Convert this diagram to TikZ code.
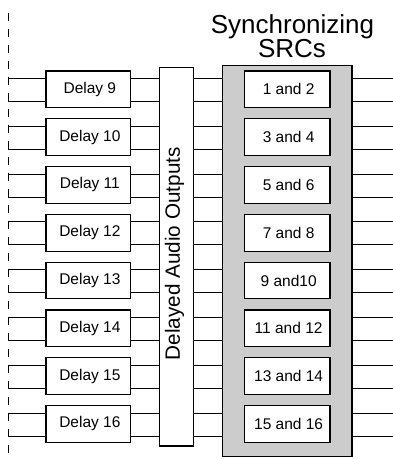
\documentclass[tikz,border=0pt]{standalone}
\usepackage{fontspec}
\setmainfont{Liberation Sans}
\begin{document}
\begin{tikzpicture}[x=1pt,y=-1pt,
  box/.style={draw, line width=1.1pt, fill=white, minimum height=36.7pt, inner sep=0pt,
    font=\fontsize{15.5}{17}\selectfont},
  wire/.style={line width=0.9pt},
  titletext/.style={font=\fontsize{26}{27}\selectfont, inner sep=0pt, anchor=base}]
\useasboundingbox (0,0) rectangle (393,459);
% dashed input line
\coordinate (dtop) at (8.3,12.7);
\coordinate (dbot) at (8.3,459);
\draw[line width=0.9pt, dash pattern=on 8pt off 8pt] (dtop) -- (dbot);
\coordinate (re) at (393,0);
% title
\node[titletext] (t1) at (292.5,33) {Synchronizing};
\node[titletext] (t2) at (292,57) {SRCs};
% big boxes
\node[draw, line width=1.1pt, fill=gray!40, minimum width=129.7pt, minimum height=391pt, inner sep=0pt] (src) at (287.15,261.2) {};
\node[draw, line width=1.1pt, fill=white, minimum width=34pt, minimum height=378.3pt, inner sep=0pt] (out) at (176.3,256.85) {};
\node[rotate=90, font=\fontsize{20.7}{22}\selectfont, inner sep=0pt] (outlbl) at (174.5,253.7) {Delayed Audio Outputs};
% rows
\foreach \i/\dl/\sl in {0/9/1 and 2,1/10/3 and 4,2/11/5 and 6,3/12/7 and 8,4/13/9 and10,5/14/11 and 12,6/15/13 and 14,7/16/15 and 16}{
  \pgfmathsetmacro\cy{89.35+47.8*\i}
  \node[box, minimum width=84.7pt] (d\i) at (88.35,\cy) {\kern3pt Delay \dl};
  \node[box, minimum width=85.7pt] (s\i) at (287.15,\cy) {\kern3pt\sl};
  \coordinate (p\i) at (8.3,\cy-11);
  \coordinate (q\i) at (8.3,\cy+12);
  \foreach \c in {p,q}{
    \draw[wire] (\c\i) -- (\c\i -| d\i.west);
    \draw[wire] (d\i.east |- \c\i) -- (out.west |- \c\i);
    \draw[wire] (out.east |- \c\i) -- (src.west |- \c\i);
    \draw[wire] (src.east |- \c\i) -- (\c\i -| re);
  }
}
\end{tikzpicture}
\end{document}
